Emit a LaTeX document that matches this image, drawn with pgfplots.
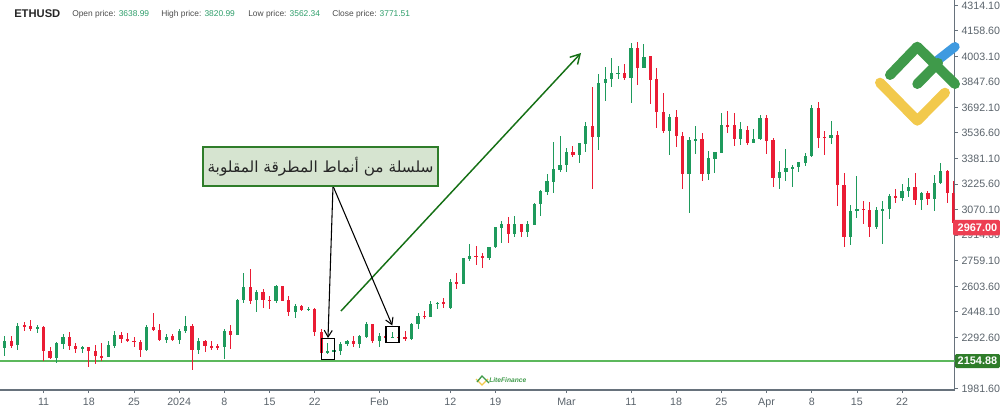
\documentclass[border=0pt]{standalone}
\usepackage{pgfplots}
\usepackage{pgfplotstable}
\usepackage{fontspec}
\pgfplotsset{compat=1.18}
\setmainfont{Liberation Sans}
\newfontfamily\arabicfont[Script=Arabic]{DejaVu Sans}
\TeXXeTstate=1
\usetikzlibrary{arrows.meta}
\definecolor{cup}{HTML}{1E9A5C}
\definecolor{cdn}{HTML}{EA1C34}
\definecolor{axc}{HTML}{67727C}
\definecolor{lab}{HTML}{5A636B}
\definecolor{lvl}{HTML}{5CB85C}
\definecolor{arrg}{HTML}{157015}
\definecolor{boxf}{HTML}{D6E4D0}
\definecolor{boxd}{HTML}{2F7D2A}
\definecolor{lgreen}{HTML}{3F9A4A}
\definecolor{lyellow}{HTML}{F2C94C}
\definecolor{lblue}{HTML}{3F9AE0}
\definecolor{hnum}{HTML}{2E9E6A}
\pgfplotstableread{
d o h l c
-7 2173 2255 2169 2228
-6 2228 2301 2180 2267
-4 2243 2381 2214 2360
-1 2344 2368 2316 2352
2 2163 2263 2137 2257
3 2253 2312 2222 2293
6 2222 2238 2194 2230
10 2171 2269 2169 2243
11 2238 2332 2228 2303
16 2216 2366 2206 2354
19 2277 2312 2259 2293
21 2275 2340 2253 2332
22 2328 2421 2320 2358
24 2214 2285 2190 2267
28 2230 2344 2161 2330
30 2307 2523 2305 2521
31 2521 2681 2502 2598
33 2517 2580 2448 2567
36 2515 2610 2502 2604
39 2448 2494 2409 2484
41 2458 2474 2454 2466
44 2194 2257 2190 2210
45 2206 2218 2198 2214
46 2210 2265 2186 2251
47 2249 2275 2240 2267
49 2253 2306 2224 2299
50 2293 2383 2287 2372
52 2271 2316 2230 2297
54 2289 2326 2285 2295
57 2279 2381 2277 2372
58 2372 2437 2344 2423
60 2415 2512 2413 2494
61 2496 2506 2464 2502
63 2468 2644 2466 2626
65 2618 2774 2614 2772
66 2768 2860 2756 2789
69 2774 2843 2762 2841
70 2839 2963 2835 2961
71 2959 3002 2868 2981
73 2923 3030 2904 2979
75 2935 2998 2900 2981
76 2977 3111 2975 3105
77 3103 3188 3032 3182
78 3176 3284 3158 3243
79 3239 3479 3170 3316
80 3312 3517 3300 3341
81 3341 3442 3296 3422
83 3402 3477 3355 3473
84 3471 3603 3422 3578
86 3513 3897 3432 3840
87 3840 3936 3733 3862
88 3862 3990 3818 3901
89 3895 3944 3864 3901
91 3873 4082 3716 4053
93 3933 4078 3929 4001
97 3548 3651 3404 3633
100 3284 3513 3050 3493
101 3493 3580 3408 3499
103 3286 3428 3249 3383
104 3379 3422 3294 3418
105 3416 3655 3414 3582
108 3501 3605 3463 3558
110 3477 3558 3475 3499
111 3497 3645 3493 3627
114 3264 3363 3197 3300
115 3300 3436 3241 3320
116 3318 3341 3207 3331
117 3327 3361 3298 3357
118 3355 3412 3335 3396
119 3394 3704 3392 3688
122 3507 3611 3471 3521
125 2904 3095 2851 3061
126 3061 3274 3016 3075
129 2963 3087 2949 3065
130 3065 3122 2860 3071
131 3071 3162 3014 3152
133 3140 3225 3124 3182
134 3184 3260 3148 3205
136 3126 3174 3067 3168
138 3136 3278 3063 3229
139 3229 3351 3225 3304
}\upT
\pgfplotstableread{
d o h l c
-5 2269 2301 2226 2238
-3 2364 2383 2328 2356
-2 2360 2395 2330 2340
0 2354 2360 2149 2210
1 2210 2230 2159 2163
4 2291 2322 2214 2238
5 2240 2259 2194 2220
7 2232 2234 2111 2210
8 2208 2245 2127 2180
9 2178 2255 2147 2169
12 2305 2322 2259 2281
13 2283 2316 2263 2269
14 2269 2295 2234 2265
15 2265 2275 2173 2216
17 2352 2437 2332 2334
18 2338 2372 2271 2275
20 2297 2312 2269 2273
23 2360 2372 2092 2216
25 2267 2275 2200 2240
26 2240 2269 2212 2228
27 2238 2251 2214 2224
29 2330 2364 2220 2307
32 2598 2705 2496 2515
34 2567 2584 2472 2521
35 2521 2545 2464 2515
37 2602 2606 2511 2515
38 2521 2543 2421 2448
40 2480 2488 2450 2460
42 2466 2470 2301 2322
43 2322 2344 2190 2194
48 2269 2299 2232 2251
51 2370 2372 2259 2271
53 2297 2299 2265 2291
55 2295 2295 2269 2289
56 2295 2328 2267 2285
59 2423 2452 2401 2419
62 2508 2531 2468 2496
64 2626 2681 2584 2622
67 2787 2847 2732 2783
68 2787 2803 2713 2780
72 2981 3022 2864 2919
74 2981 2981 2900 2935
82 3422 3456 3392 3400
85 3576 3818 3197 3513
90 3901 3956 3856 3868
92 4053 4088 3826 3933
94 4003 4005 3712 3860
95 3862 3929 3564 3664
96 3664 3777 3534 3548
98 3633 3674 3452 3517
99 3519 3542 3195 3284
102 3499 3538 3243 3286
106 3584 3672 3534 3578
107 3584 3655 3456 3501
109 3556 3578 3463 3477
112 3627 3645 3408 3489
113 3495 3507 3209 3264
120 3688 3724 3444 3507
121 3511 3548 3402 3507
123 3521 3550 3091 3219
124 3221 3294 2843 2904
127 3075 3122 2981 3065
128 3067 3117 2904 2965
132 3150 3193 3107 3144
135 3207 3290 3097 3126
137 3168 3182 3097 3136
140 3306 3310 3107 3172
141 3172 3241 2985 2985
}\downT
\begin{document}
\begin{tikzpicture}
\path[use as bounding box] (0,-15.75pt) rectangle (750pt,292.5pt);
\begin{axis}[
  at={(0,0)}, anchor=south west,
  scale only axis, width=715.875pt, height=292.5pt,
  xmin=-6.755, xmax=141.12, ymin=1970.5, ymax=4345.6,
  axis x line*=bottom, axis y line*=right,
  axis line style={axc, line width=0.9pt},
  tick style={axc, line width=0.6pt},
  major tick length=2.25pt, tick align=outside,
  xtick={0,7,14,21,28,35,42,52,63,70,81,91,98,105,112,119,126,133},
  xticklabels={11,18,25,2024,8,15,22,Feb,12,19,Mar,11,18,25,Apr,8,15,22},
  ytick={1981.6,2137.1,2292.6,2448.1,2603.6,2759.1,2914.6,3070.1,3225.6,3381.1,3536.6,3692.1,3847.6,4003.1,4158.6,4314.1},
  yticklabel pos=right,
  /pgf/number format/.cd, fixed, fixed zerofill, precision=2, 1000 sep={}, assume math mode=true,
  /pgfplots/.cd,
  typeset ticklabels with strut,
  ticklabel style={font=\fontsize{8}{9}\selectfont, text=lab},
  xticklabel style={yshift=0.5pt},
  yticklabel style={xshift=-0.5pt, yshift=-1.2pt},
]
\addplot[draw=lvl, line width=1.5pt, mark=none, forget plot] coordinates {(-6.755,2150) (141.12,2150)};
% wicks
\addplot[draw=none, mark=none, forget plot, error bars/.cd, y dir=both, y explicit, error mark=none, error bar style={draw=cup, line width=0.7pt}]
  table[x=d, y expr=(\thisrow{h}+\thisrow{l})/2, y error expr=(\thisrow{h}-\thisrow{l})/2] {\upT};
\addplot[draw=none, mark=none, forget plot, error bars/.cd, y dir=both, y explicit, error mark=none, error bar style={draw=cdn, line width=0.7pt}]
  table[x=d, y expr=(\thisrow{h}+\thisrow{l})/2, y error expr=(\thisrow{h}-\thisrow{l})/2] {\downT};
% bodies
\addplot[draw=none, mark=none, forget plot, error bars/.cd, y dir=both, y explicit, error mark=none, error bar style={draw=cup, line width=2.4pt}]
  table[x=d, y expr=(\thisrow{o}+\thisrow{c})/2, y error expr=(\thisrow{c}-\thisrow{o})/2] {\upT};
\addplot[draw=none, mark=none, forget plot, error bars/.cd, y dir=both, y explicit, error mark=none, error bar style={draw=cdn, line width=2.4pt}]
  table[x=d, y expr=(\thisrow{o}+\thisrow{c})/2, y error expr=(\thisrow{o}-\thisrow{c})/2] {\downT};
\end{axis}
\begin{scope}[x=0.75pt, y=-0.75pt, yshift=292.5pt]
  % header
  \node[anchor=west, inner sep=0pt, font=\fontsize{8.4}{10}\selectfont\bfseries, text=black!85] at (14,13.5) {ETHUSD};
  \foreach \xx/\nm/\vv in {72/Open price:/3638.99, 161/High price:/3820.99, 248/Low price:/3562.34, 332/Close price:/3771.51}{
    \node[anchor=west, inner sep=0pt, font=\fontsize{6.3}{8}\selectfont, text=black!70] at (\xx,14) {\nm{} \textcolor{hnum}{\vv}};
  }
  % logo
  \draw[lblue, line width=7pt, line cap=round] (938,60) -- (955,46.7);
  \draw[lyellow, line width=7.5pt, line cap=round, line join=round] (880,82.7) -- (917.3,120.7) -- (945,92.7);
  \draw[lgreen, line width=7.5pt, line cap=round, line join=round] (890,75) -- (917.3,46.7) -- (955,84);
  \draw[lgreen, line width=7.5pt, line cap=round] (917.3,84) -- (938,63);
  % small logo
  \draw[lyellow, line width=1pt] (476,379) -- (482,385) -- (488,379);
  \draw[lgreen, line width=1pt] (477,382) -- (482,376) -- (489,383);
  \node[anchor=west, inner sep=0pt, font=\fontsize{5}{6}\selectfont\itshape\bfseries, text=lgreen] at (489,380) {LiteFinance};
  % price labels
  \fill[rounded corners=1pt, fill=boxd] (955,354) rectangle (1000,368);
  \node[text=white, inner sep=0pt, font=\fontsize{8.2}{9}\selectfont\bfseries] at (977.5,361) {2154.88};
  \fill[rounded corners=1pt, fill=cdn!85!white] (953,220) rectangle (1000,235.5);
  \node[text=white, inner sep=0pt, font=\fontsize{8.2}{9}\selectfont\bfseries] at (977.5,228) {2967.00};
  % rectangles
  \draw[black, line width=1pt] (321.3,338.3) rectangle (334.7,359.3);
  \draw[black, line width=1pt] (386,326.7) rectangle (399,342.3);
  % green arrow
  \draw[arrg, line width=1.1pt, -{Straight Barb[length=7pt,width=8pt]}] (341,311) -- (581,53);
  % callout arrows
  \draw[black, line width=0.8pt, -{Straight Barb[length=5pt,width=6pt]}] (333,186) -- (328,338);
  \draw[black, line width=0.8pt, -{Straight Barb[length=5pt,width=6pt]}] (333,186) -- (392.3,325.5);
  % callout box
  \draw[boxd, fill=boxf, line width=1pt] (203,147) rectangle (438,186);
  \node[inner sep=0pt, text=black!85, font=\fontsize{11.5}{14}\selectfont] at (320.5,167) {\arabicfont\beginR سلسلة من أنماط المطرقة المقلوبة\endR};
\end{scope}
\end{tikzpicture}
\end{document}
